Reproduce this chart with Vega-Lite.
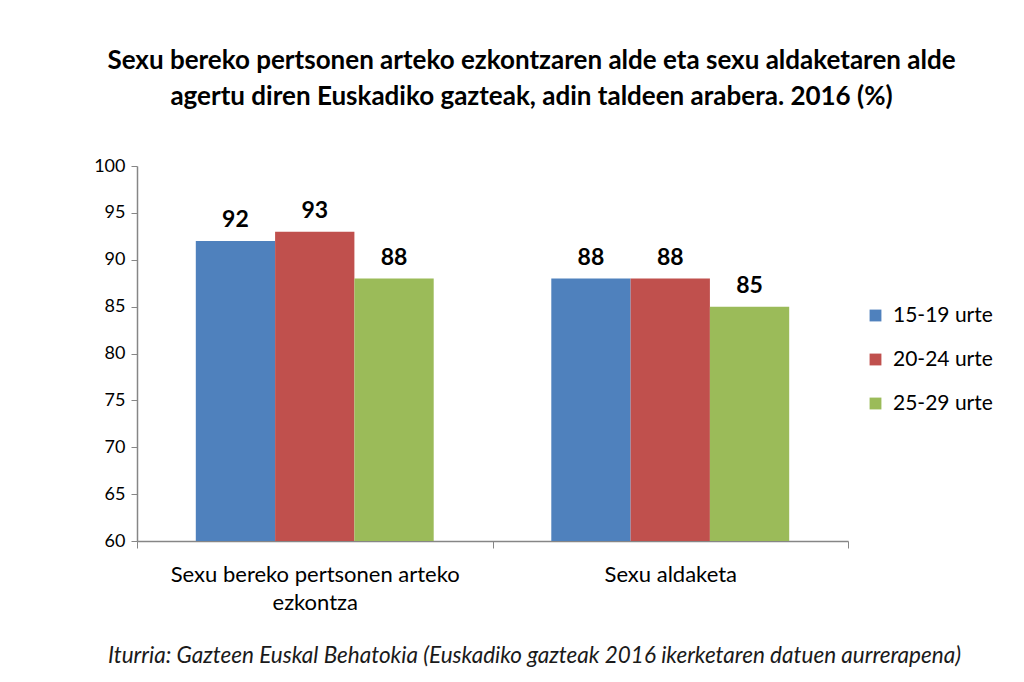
{
  "$schema": "https://vega.github.io/schema/vega-lite/v6.json",
  "width": 711,
  "height": 375,
  "autosize": {"type": "none"},
  "padding": {"left": 137, "top": 166, "right": 176, "bottom": 141},
  "background": "white",
  "config": {"view": {"stroke": null}, "font": "Lato"},
  "title": {
    "text": ["Sexu bereko pertsonen arteko ezkontzaren alde eta sexu aldaketaren alde", "agertu diren Euskadiko gazteak, adin taldeen arabera. 2016 (%)"],
    "anchor": "middle",
    "dx": 39,
    "fontSize": 26,
    "lineHeight": 36,
    "fontWeight": "bold",
    "color": "#000000",
    "font": "Lato",
    "offset": 47
  },
  "data": {
    "values": [
      {"cat": "Sexu bereko pertsonen arteko ezkontza", "group": "15-19 urte", "value": 92},
      {"cat": "Sexu bereko pertsonen arteko ezkontza", "group": "20-24 urte", "value": 93},
      {"cat": "Sexu bereko pertsonen arteko ezkontza", "group": "25-29 urte", "value": 88},
      {"cat": "Sexu aldaketa", "group": "15-19 urte", "value": 88},
      {"cat": "Sexu aldaketa", "group": "20-24 urte", "value": 88},
      {"cat": "Sexu aldaketa", "group": "25-29 urte", "value": 85}
    ]
  },
  "encoding": {
    "x": {
      "field": "cat",
      "type": "nominal",
      "sort": null,
      "scale": {"paddingInner": 0, "paddingOuter": 0},
      "axis": {
        "title": "Iturria: Gazteen Euskal Behatokia (Euskadiko gazteak 2016  ikerketaren datuen aurrerapena)",
        "titleFont": "Lato",
        "titleFontStyle": "italic",
        "titleFontWeight": "normal",
        "titleFontSize": 22.5,
        "titleColor": "#1a1a1a",
        "titlePadding": 31,
        "titleX": 397,
        "labelAngle": 0,
        "labelFontSize": 22,
        "labelColor": "#000000",
        "labelPadding": 16,
        "labelLineHeight": 28,
        "labelLimit": 0,
        "labelExpr": "datum.label == 'Sexu bereko pertsonen arteko ezkontza' ? ['Sexu bereko pertsonen arteko', 'ezkontza'] : datum.label",
        "tickBand": "extent",
        "tickSize": 7,
        "tickColor": "#868686",
        "domainColor": "#868686",
        "domainWidth": 1.5,
        "grid": false
      }
    },
    "xOffset": {
      "field": "group",
      "type": "nominal",
      "scale": {"paddingInner": 0, "paddingOuter": 0.7415}
    },
    "y": {
      "field": "value",
      "type": "quantitative",
      "scale": {"domain": [60, 100], "zero": false, "nice": false},
      "axis": {
        "title": null,
        "values": [60, 65, 70, 75, 80, 85, 90, 95, 100],
        "labelFontSize": 18,
        "labelColor": "#000000",
        "labelPadding": 6,
        "tickSize": 6,
        "tickColor": "#868686",
        "domainColor": "#868686",
        "domainWidth": 1.5,
        "grid": false
      }
    }
  },
  "layer": [
    {
      "mark": {"type": "bar"},
      "encoding": {
        "y2": {"datum": 60},
        "color": {
          "field": "group",
          "type": "nominal",
          "scale": {"range": ["#4F81BD", "#C0504D", "#9BBB59"]},
          "legend": {
            "title": null,
            "orient": "none",
            "legendX": 728,
            "legendY": 139,
            "symbolType": "square",
            "symbolSize": 140,
            "symbolStrokeWidth": 0,
            "labelFontSize": 21,
            "labelColor": "#000000",
            "labelOffset": 7,
            "rowPadding": 22
          }
        }
      }
    },
    {
      "mark": {"type": "text", "baseline": "alphabetic", "dy": -14, "fontSize": 23, "fontWeight": "bold", "color": "#000000"},
      "encoding": {"text": {"field": "value", "type": "quantitative"}}
    }
  ]
}
